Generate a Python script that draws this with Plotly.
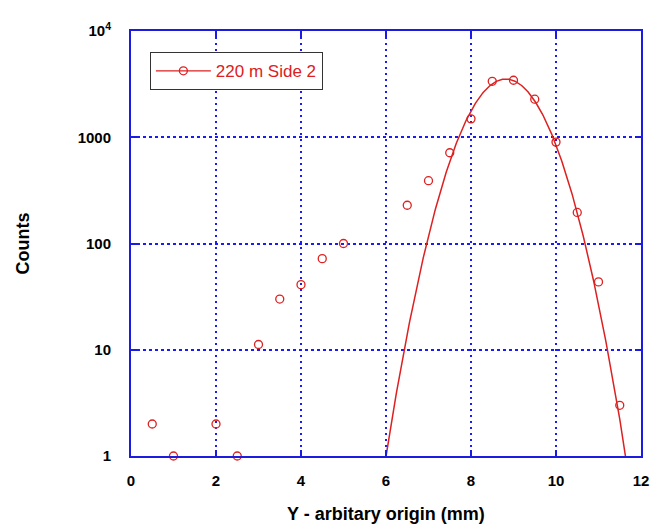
import numpy as np
import plotly.graph_objects as go

# Measured data points
pos_mm = [0.5, 1.0, 2.0, 2.5, 3.0, 3.5, 4.0, 4.5, 5.0, 6.5, 7.0, 7.5, 8.0, 8.5, 9.0, 9.5, 10.0, 10.5, 11.0, 11.5]
counts = [2, 1, 2, 1, 11.2, 30, 41, 72, 100, 229, 390, 715, 1490, 3360, 3440, 2280, 900, 196, 43.5, 3.0]

# Gaussian fit parameters
fit_amplitude = 3530.0
fit_center = 8.82
fit_sigma = 0.698

y_tickvals = [1, 10, 100, 1000, 10000]
y_ticktext = ["1", "10", "100", "1000", "10<sup>4</sup>"]
x_tickvals = [0, 2, 4, 6, 8, 10, 12]
series_name = "220 m Side 2"

RED = "#dd2020"
BLUE = "#1c1ce0"
GRID = "#1a1aff"
FONT = "Liberation Sans, Arial, sans-serif"

W, H = 665, 528
ML, MR, MT, MB = 123, 32, 13, 80
plot_w = W - ML - MR
plot_h = H - MT - MB

xf = np.linspace(5.5, 12.0, 400)
yf = fit_amplitude * np.exp(-((xf - fit_center) ** 2) / (2 * fit_sigma ** 2))

fig = go.Figure()
fig.add_trace(go.Scatter(x=xf, y=yf, mode="lines", line=dict(color=RED, width=1.5),
                         showlegend=False, hoverinfo="skip"))
fig.add_trace(go.Scatter(x=pos_mm, y=counts, mode="markers",
                         marker=dict(symbol="circle-open", size=8, color=RED, line=dict(width=1.3, color=RED)),
                         showlegend=False, cliponaxis=False))
fig.add_trace(go.Scatter(x=[None], y=[None], mode="lines+markers", name=series_name,
                         line=dict(color=RED, width=1.3),
                         marker=dict(symbol="circle-open", size=8, color=RED, line=dict(width=1.3, color=RED))))

axis_common = dict(
    showline=True, linecolor=BLUE, linewidth=2, mirror="ticks",
    showgrid=True, gridcolor=GRID, gridwidth=1.5,
    ticks="inside", ticklen=6, tickwidth=1.5, tickcolor=BLUE,
    zeroline=False,
    tickfont=dict(family=FONT, size=15, color="black", weight="bold"),
)

fig.update_xaxes(range=[0, 12], tickvals=x_tickvals, ticklabelstandoff=10,
                 griddash="2px,4px", **axis_common)
fig.update_yaxes(type="log", range=[0, 4], tickvals=y_tickvals, ticktext=y_ticktext,
                 ticklabelstandoff=15, griddash="3px,3px", **axis_common)

fig.update_layout(
    width=W, height=H,
    margin=dict(l=ML, r=MR, t=MT, b=MB),
    paper_bgcolor="white", plot_bgcolor="white",
    showlegend=True,
    legend=dict(x=0.037, y=0.950, xanchor="left", yanchor="top",
                bgcolor="white", bordercolor="#333333", borderwidth=1,
                font=dict(family=FONT, size=17, color=RED), itemwidth=55,
                tracegroupgap=0),
    annotations=[
        dict(text="Y - arbitary origin (mm)", x=0.5, xref="paper",
             y=-59 / plot_h, yref="paper", yanchor="middle",
             showarrow=False, font=dict(family=FONT, size=18, color="black", weight="bold")),
        dict(text="Counts", textangle=-90, x=-109 / plot_w, xref="paper", xanchor="center",
             y=0.5, yref="paper",
             showarrow=False, font=dict(family=FONT, size=18, color="black", weight="bold")),
    ],
)

fig.write_html("out.html")
